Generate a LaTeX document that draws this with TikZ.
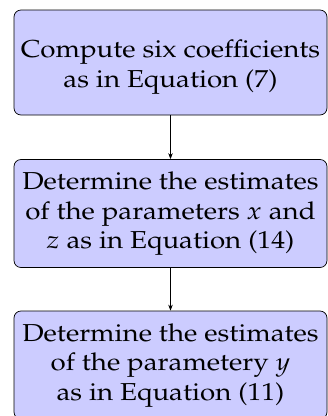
\documentclass[tikz,border=0pt]{standalone}
\usepackage[T1]{fontenc}
\usepackage{mathpazo}
\usepackage{graphicx}
\usetikzlibrary{arrows.meta}
\newcommand{\boxlines}[2][0pt]{\raisebox{#1}[\height][\depth]{\scalebox{1.13}[1]{\fontsize{24.5}{29.5}\selectfont\setlength{\tabcolsep}{0pt}\begin{tabular}{c}#2\end{tabular}}}}
\tikzset{
  stepbox/.style={draw=black, line width=0.7pt, fill=blue!20, rounded corners=7pt,
    minimum width=313pt, align=center, inner sep=0pt},
  flow/.style={draw=black, line width=0.7pt, -{Stealth[length=6pt,width=4.5pt]}}
}
\begin{document}
\begin{tikzpicture}[x=1pt,y=-1pt]
\useasboundingbox (0,0) rectangle (328,416);
\node[stepbox, minimum height=105pt] (a) at (170.5,62.5) {\boxlines[-4pt]{Compute six coefficients\\as in Equation (7)}};
\node[stepbox, minimum height=108pt] (b) at (170.5,213.5) {\boxlines{Determine the estimates\\of the parameters $x$ and\\$z$ as in Equation (14)}};
\node[stepbox, minimum height=108pt] (c) at (170.5,365) {\boxlines{Determine the estimates\\of the parametery $y$\\as in Equation (11)}};
\draw[flow] (a) -- (b);
\draw[flow] (b) -- (c);
\end{tikzpicture}
\end{document}
